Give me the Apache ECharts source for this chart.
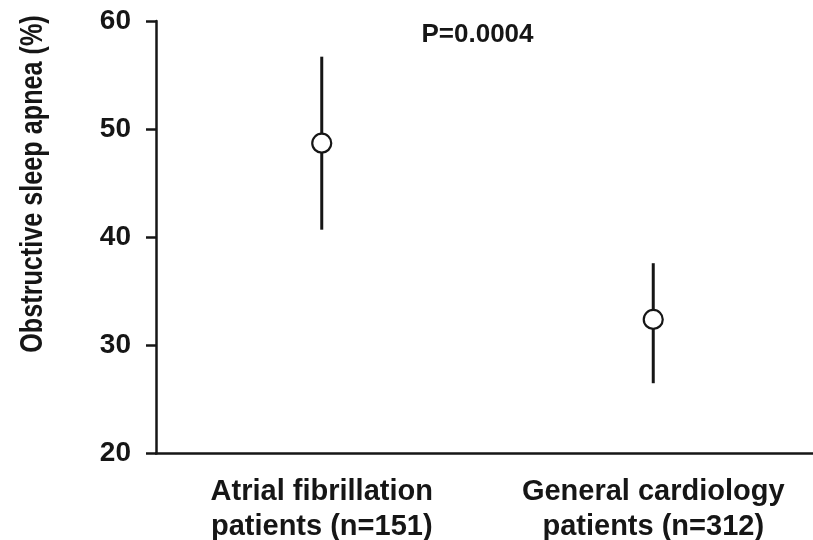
<!DOCTYPE html>
<html>
<head>
<meta charset="utf-8">
<script src="https://cdn.jsdelivr.net/npm/echarts@6/dist/echarts.min.js"></script>
<style>
  html, body { margin: 0; padding: 0; background: #fff; }
  #chart { width: 813px; height: 540px; }
</style>
</head>
<body>
<div id="chart"></div>
<script>
// Prevalence of obstructive sleep apnea by patient group (mean with 95% CI)
const categories = ['Atrial fibrillation\npatients (n=151)', 'General cardiology\npatients (n=312)'];
const meanValues = [48.7, 32.4];
const lowerValues = [40.7, 26.5];
const upperValues = [56.7, 37.6];
const yTicks = [20, 30, 40, 50, 60];
const pValueText = 'P=0.0004';
const yTitle = 'Obstructive sleep apnea (%)';

const ink = '#161616';
const font = '"Liberation Sans", Arial, Helvetica, sans-serif';

const chart = echarts.init(document.getElementById('chart'), null, { renderer: 'canvas' });

const errorData = categories.map((c, i) => [i, lowerValues[i], upperValues[i]]);

chart.setOption({
  backgroundColor: '#ffffff',
  animation: false,
  grid: { left: 156, top: 21, width: 663, height: 432.5, outerBoundsMode: 'none', containLabel: false },
  xAxis: {
    type: 'category',
    data: categories,
    boundaryGap: true,
    axisLine: { lineStyle: { color: ink, width: 2.5 } },
    axisTick: { show: false },
    axisLabel: {
      color: ink, fontFamily: font, fontWeight: 'bold', fontSize: 29,
      lineHeight: 35, margin: 21, interval: 0
    },
    splitLine: { show: false }
  },
  yAxis: {
    type: 'value',
    min: yTicks[0],
    max: yTicks[yTicks.length - 1],
    interval: yTicks[1] - yTicks[0],
    axisLine: { show: true, lineStyle: { color: ink, width: 2.5 } },
    axisTick: { show: true, inside: false, length: 10, lineStyle: { color: ink, width: 2.5 } },
    axisLabel: { color: ink, fontFamily: font, fontWeight: 'bold', fontSize: 28, margin: 25 },
    splitLine: { show: false }
  },
  graphic: [
    {
      type: 'text',
      x: 33, y: 184,
      rotation: Math.PI / 2,
      scaleX: 0.9, scaleY: 1.15,
      style: {
        text: yTitle, fill: ink, font: 'bold 28px ' + font,
        textAlign: 'center', textVerticalAlign: 'middle'
      }
    },
    {
      type: 'text',
      x: 477.5, y: 35,
      style: {
        text: pValueText, fill: ink, font: 'bold 26px ' + font,
        textAlign: 'center', textVerticalAlign: 'middle'
      }
    }
  ],
  series: [
    {
      type: 'custom',
      data: errorData,
      encode: { x: 0, y: [1, 2] },
      z: 2,
      renderItem: function (params, api) {
        const idx = api.value(0);
        const lo = api.coord([idx, api.value(1)]);
        const hi = api.coord([idx, api.value(2)]);
        return {
          type: 'line',
          shape: { x1: lo[0], y1: lo[1], x2: hi[0], y2: hi[1] },
          style: { stroke: ink, lineWidth: 3 }
        };
      }
    },
    {
      type: 'scatter',
      data: meanValues,
      symbol: 'circle',
      symbolSize: 19,
      z: 3,
      itemStyle: { color: '#ffffff', borderColor: ink, borderWidth: 2.2, opacity: 1 }
    }
  ]
});
</script>
</body>
</html>
